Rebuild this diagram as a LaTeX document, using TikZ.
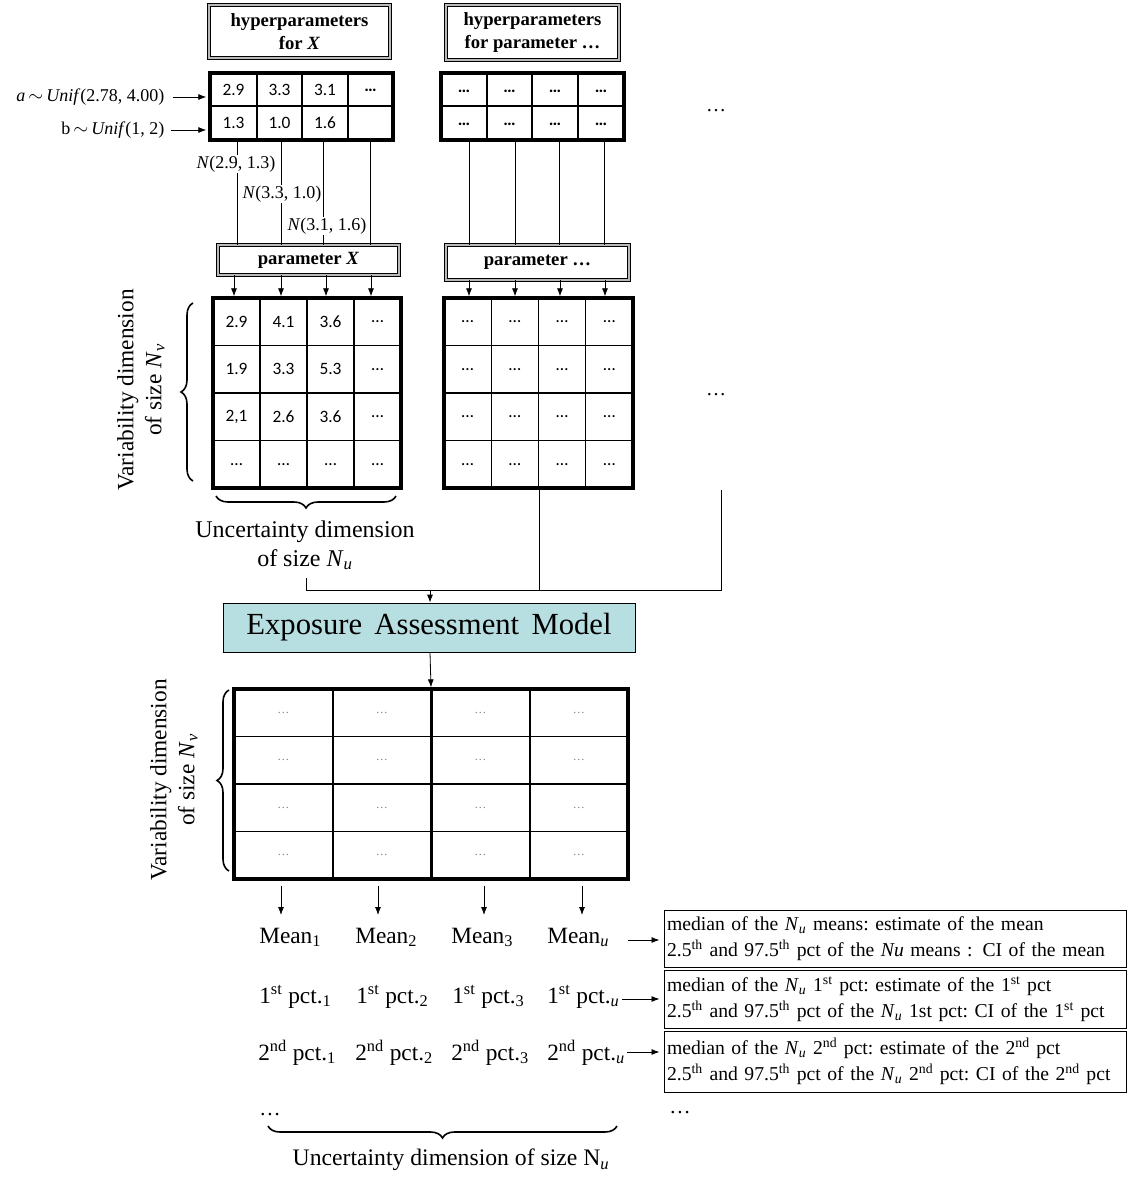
\documentclass[tikz,border=0pt]{standalone}
\usepackage{fontspec}
\setmainfont{Liberation Serif}
\newfontfamily\calfont{Carlito}
\usetikzlibrary{arrows.meta,decorations.pathreplacing}
\newdimen\pxu \pxu=0.75pt
\definecolor{eamfill}{RGB}{183,222,224}
\newcommand{\fsz}[2]{\fontsize{#1}{#2}\selectfont}
\newcommand{\Nu}{\textit{N}\textsubscript{\textit{u}}}
\newcommand{\Nv}{\textit{N}\textsubscript{\textit{v}}}
\begin{document}
\begin{tikzpicture}[x=0.75pt,y=-0.75pt,
  arr/.style={-{Latex[length=6pt,width=4.5pt]},line width=0.6pt},
  conn/.style={line width=0.6pt},
  dbox/.style={draw, line width=0.7pt, double=gray!55, double distance=1.5pt, inner sep=0pt, font=\bfseries\fsz{14}{17}, align=center},
  tblbox/.style={draw, line width=2.5pt, inner sep=0pt},
  cellline/.style={line width=0.8pt},
  num/.style={font=\calfont\fsz{13}{14}, inner sep=0pt},
  bnum/.style={font=\calfont\bfseries\fsz{13}{14}, inner sep=0pt},
  lbl/.style={font=\fsz{13.5}{15}, inner sep=1pt},
  big/.style={font=\fsz{18}{21.75}, align=center, inner sep=0pt},
  vtext/.style={font=\fsz{17.5}{21}, align=center, inner sep=0pt, rotate=90},
  brc/.style={decorate, decoration={brace, amplitude=9pt}, line width=1.2pt},
  row/.style={font=\fsz{17.5}{20}, inner sep=0pt, anchor=base west},
  dotsn/.style={font=\fsz{15}{17}, inner sep=0pt},
  rbox/.style={draw, line width=0.75pt, minimum width=462\pxu, text width=456\pxu, align=left, inner sep=2.5\pxu, font=\fsz{14.75}{19.5}}
]
\useasboundingbox (0,0) rectangle (1136,1181);

% ---------- hyperparameter boxes ----------
\node[dbox, minimum width=181\pxu, minimum height=53\pxu] (hx) at (299.5,31.5) {hyperparameters\\for \textit{X}};
\node[dbox, minimum width=173\pxu, minimum height=55\pxu] (hp) at (532.5,32.5) {hyperparameters\\for parameter \dots};

% ---------- top table T1 ----------
\foreach \x in {257,302,348} \draw[cellline] (\x,73) -- (\x,140);
\draw[cellline] (210,106) -- (393,106);
\node[tblbox, minimum width=183\pxu, minimum height=67\pxu] (T1) at (301.5,106.5) {};
\foreach \v/\x [count=\i] in {2.9/233.5,3.3/279.5,3.1/325} \node[num] (ta\i) at (\x,90) {\v};
\node[bnum] (ta4) at (370.5,90) {…};
\foreach \v/\x [count=\i] in {1.3/233.5,1.0/279.5,1.6/325} \node[num] (tb\i) at (\x,123) {\v};

% ---------- top table T2 ----------
\foreach \x in {487,532,578} \draw[cellline] (\x,73) -- (\x,140);
\draw[cellline] (441,106) -- (624,106);
\node[tblbox, minimum width=183\pxu, minimum height=67\pxu] (T2) at (532.5,106.5) {};
\foreach \x [count=\i] in {464,509.5,555,601}{
  \node[bnum] (tc\i) at (\x,91) {…};
  \node[bnum] (td\i) at (\x,124) {…};
}

% ---------- distribution labels ----------
\node[lbl, anchor=east] (la) at (166,97) {\textit{a}\,$\sim$\,\textit{Unif}(2.78, 4.00)};
\node[lbl, anchor=east] (lb) at (166,130) {b\,$\sim$\,\textit{Unif}(1, 2)};
\draw[arr, shorten >=1.5pt] ([xshift=5pt]la.east) -- (T1.west |- la.east);
\draw[arr, shorten >=1.5pt] ([xshift=3.5pt]lb.east) -- (T1.west |- lb.east);

% ---------- parameter boxes ----------
\node[dbox, minimum width=181\pxu, minimum height=30\pxu] (px) at (308.5,260) {parameter \textit{X}};
\node[dbox, minimum width=183\pxu, minimum height=35\pxu] (pp) at (537.5,262.5) {parameter \dots};

% x positions of connectors
\foreach \x [count=\i] in {237,281,323,370} \coordinate (xa\i) at (\x,0);
\foreach \x [count=\i] in {469,515,559,604} \coordinate (xp\i) at (\x,0);
\foreach \x [count=\i] in {234,281,326,371} \coordinate (xb\i) at (\x,0);
\foreach \x [count=\i] in {469,515,560,605} \coordinate (xq\i) at (\x,0);

\foreach \i in {1,...,4}{
  \draw[conn] (T1.south -| xa\i) -- (px.north -| xa\i);
  \draw[conn] (T2.south -| xp\i) -- (pp.north -| xp\i);
}
\node[lbl, fill=white] (n1) at (236,164) {\textit{N}(2.9, 1.3)};
\node[lbl, fill=white] (n2) at (282,194) {\textit{N}(3.3, 1.0)};
\node[lbl, fill=white] (n3) at (327,226) {\textit{N}(3.1, 1.6)};

% ---------- grid G1 ----------
\foreach \x in {260,307,354} \draw[cellline] (\x,298) -- (\x,488);
\foreach \y in {345.5,393,440.5} \draw[cellline] (213,\y) -- (401,\y);
\node[tblbox, minimum width=188\pxu, minimum height=190\pxu] (G1) at (307,393) {};
\foreach \rowv [count=\ri] in {{2.9,4.1,3.6,…},{1.9,3.3,5.3,…},{{2,1},2.6,3.6,…},{…,…,…,…}}{
  \foreach \v [count=\ci] in \rowv {
    \node[num] (g\ri\ci) at ({213+(\ci-0.5)*47},{298+(\ri-0.5)*47.5}) {\v};
  }
}

% ---------- grid G2 ----------
\foreach \x in {491.25,538.5,585.75} \draw[cellline] (\x,298) -- (\x,488);
\foreach \y in {345.5,393,440.5} \draw[cellline] (444,\y) -- (633,\y);
\node[tblbox, minimum width=189\pxu, minimum height=190\pxu] (G2) at (538.5,393) {};
\foreach \ri in {1,...,4}{
  \foreach \ci in {1,...,4}{
    \node[num] (h\ri\ci) at ({444+(\ci-0.5)*47.25},{298+(\ri-0.5)*47.5}) {…};
  }
}

\foreach \i in {1,...,4}{
  \draw[arr] (px.south -| xb\i) -- (G1.north -| xb\i);
  \draw[arr] (pp.south -| xq\i) -- (G2.north -| xq\i);
}

\node[dotsn] (dr1) at (716,111) {\dots};
\node[dotsn] (dr2) at (716,395) {\dots};

% braces and labels around G1
\draw[brc] (193,481) -- (193,303);
\node[vtext] (vd1) at (141,390) {Variability dimension\\of size \Nv};
\draw[brc] (396,496) -- (216,496);
\node[big] (ud) at (305,545) {Uncertainty dimension\\of size \Nu};

% ---------- Exposure Assessment Model ----------
\node[draw, line width=0.6pt, fill=eamfill, minimum width=412\pxu, minimum height=49\pxu, inner sep=0pt, font=\fsz{23}{26}] (EAM) at (429,627.5) {Exposure\hspace{0.4em}Assessment\hspace{0.4em}Model};

\coordinate (ue) at (306,578);
\coordinate (jn) at (430,590);
\coordinate (rx) at (721,490);
\draw[conn] (ue) -- (ue |- jn) -- (rx |- jn) -- (rx);
\draw[conn] (G2.south -| 539,0) -- (539,590);
\draw[arr] (jn) -- (EAM.north -| jn);

% ---------- grid G3 ----------
\foreach \y in {736.5,784,831.5} \draw[cellline] (234,\y) -- (628,\y);
\foreach \x in {333,431.5,530} \draw[line width=1.8pt] (\x,689) -- (\x,879);
\node[tblbox, minimum width=394\pxu, minimum height=190\pxu] (G3) at (431,784) {};
\foreach \ri in {1,...,4}{
  \foreach \ci in {1,...,4}{
    \node[font=\fsz{9}{10}, text=gray, inner sep=0pt] (k\ri\ci) at ({234+(\ci-0.5)*98.5},{689+(\ri-0.5)*47.5}) {…};
  }
}
\draw[arr] (EAM.south -| 430,0) -- (G3.north -| 431,0);

\draw[brc] (229,871) -- (229,690);
\node[vtext] (vd2) at (174,780) {Variability dimension\\of size \Nv};

% ---------- summary rows ----------
\node[row] (m1) at (259,943) {Mean\textsubscript{1}};
\node[row] (m2) at (355,943) {Mean\textsubscript{2}};
\node[row] (m3) at (451,943) {Mean\textsubscript{3}};
\node[row] (m4) at (547,943) {Mean\textsubscript{\textit{u}}};
\node[row] (p1) at (259,1003) {1\textsuperscript{st} pct.\textsubscript{1}};
\node[row] (p2) at (356,1003) {1\textsuperscript{st} pct.\textsubscript{2}};
\node[row] (p3) at (452,1003) {1\textsuperscript{st} pct.\textsubscript{3}};
\node[row] (p4) at (547,1003) {1\textsuperscript{st} pct.\textsubscript{\textit{u}}};
\node[row] (q1) at (258,1060) {2\textsuperscript{nd} pct.\textsubscript{1}};
\node[row] (q2) at (355,1060) {2\textsuperscript{nd} pct.\textsubscript{2}};
\node[row] (q3) at (451,1060) {2\textsuperscript{nd} pct.\textsubscript{3}};
\node[row] (q4) at (547,1060) {2\textsuperscript{nd} pct.\textsubscript{\textit{u}}};
\node[dotsn, font=\fsz{16}{18}] (bd1) at (270,1115) {\dots};

\foreach \x [count=\i] in {281,378,484,582} \coordinate (xc\i) at (\x,886);
\foreach \i in {1,...,4} \draw[arr] (xc\i) -- (xc\i |- 0,915);

\draw[brc] (617,1126) -- (268,1126);
\node[font=\fsz{17.75}{20}, inner sep=0pt] (ud2) at (451,1160) {Uncertainty dimension of size N\textsubscript{\textit{u}}};

% ---------- result boxes ----------
\node[rbox, minimum height=57\pxu] (R1) at (895,938.5) {median of the \Nu\ means:\ estimate\ of the mean\\2.5\textsuperscript{th} and 97.5\textsuperscript{th} pct of the \textit{Nu} means : CI of the mean};
\node[rbox, minimum height=58\pxu] (R2) at (895,999) {median of the \Nu\ 1\textsuperscript{st} pct:\ estimate\ of the 1\textsuperscript{st} pct\\2.5\textsuperscript{th} and 97.5\textsuperscript{th} pct of the \Nu\ 1st pct:\ CI of the 1\textsuperscript{st} pct};
\node[rbox, minimum height=61\pxu] (R3) at (895,1061.5) {median of the \Nu\ 2\textsuperscript{nd} pct:\ estimate\ of the 2\textsuperscript{nd} pct\\2.5\textsuperscript{th} and 97.5\textsuperscript{th} pct of the \Nu\ 2\textsuperscript{nd} pct:\ CI of the 2\textsuperscript{nd} pct};
\node[dotsn, font=\fsz{16}{18}] (bd2) at (680,1113) {\dots};

\coordinate (ra1) at (628,940);
\coordinate (ra2) at (622,999);
\coordinate (ra3) at (627,1052);
\draw[arr, shorten >=3pt] (ra1) -- (R1.west |- ra1);
\draw[arr, shorten >=3pt] (ra2) -- (R2.west |- ra2);
\draw[arr, shorten >=3pt] (ra3) -- (R3.west |- ra3);
\end{tikzpicture}
\end{document}
